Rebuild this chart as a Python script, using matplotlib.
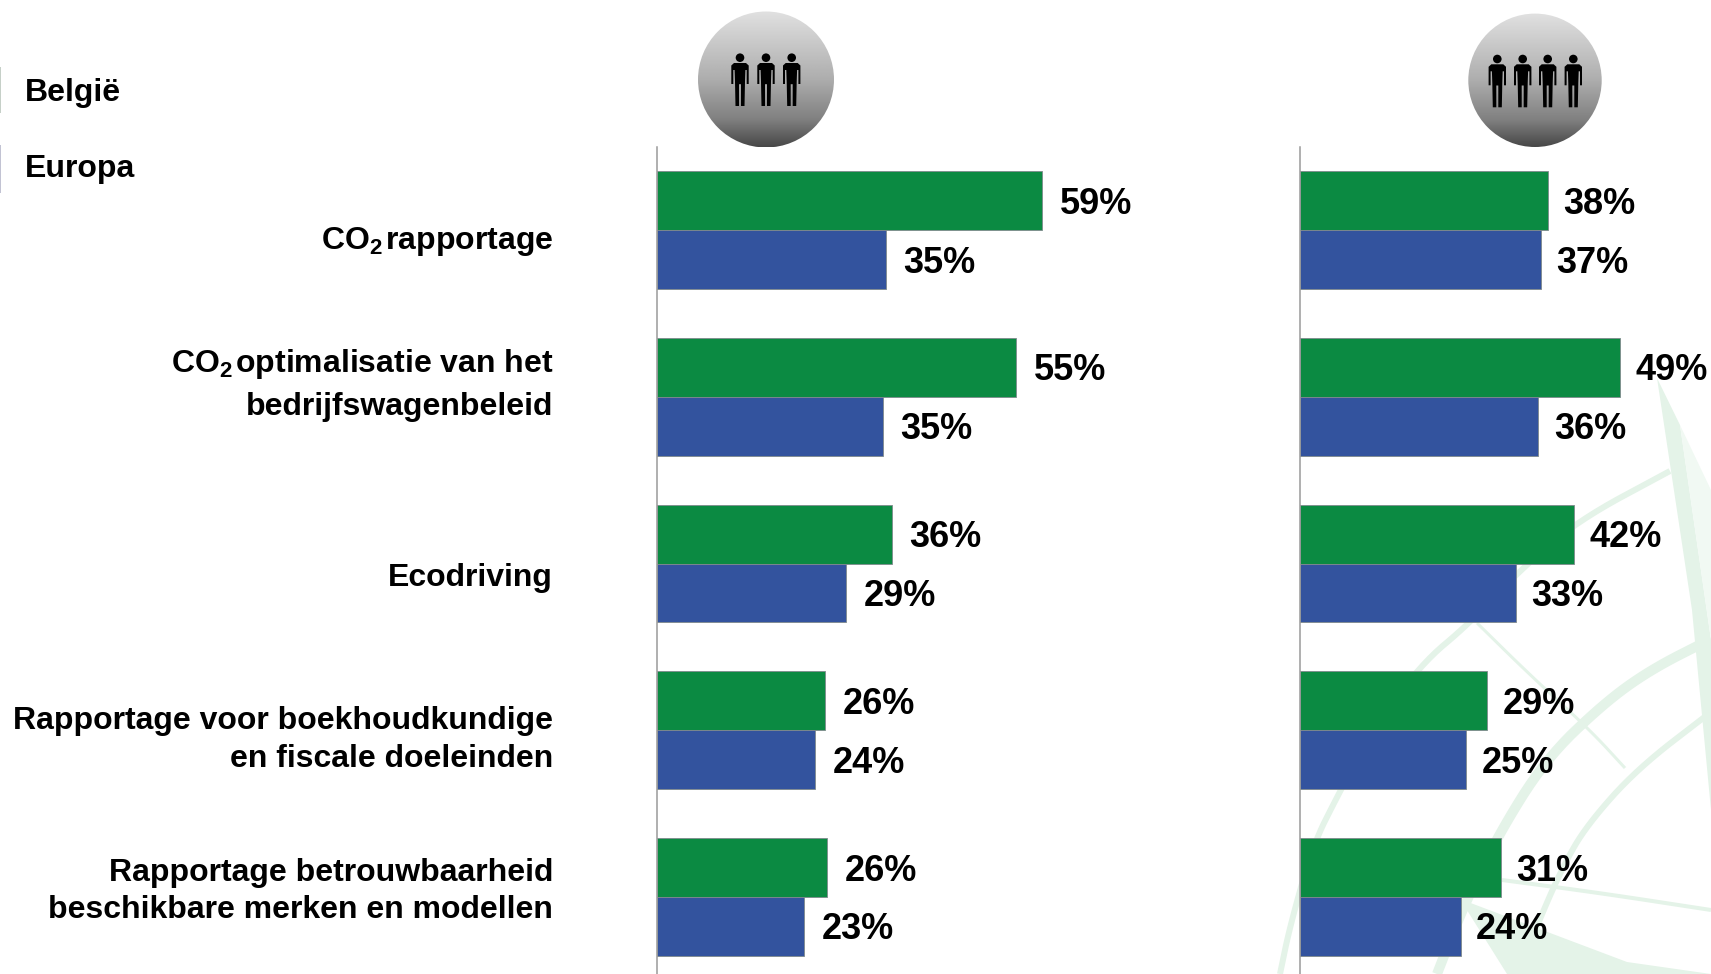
#!/usr/bin/env python3
# -*- coding: utf-8 -*-
import numpy as np
import matplotlib
matplotlib.use('Agg')
import matplotlib.pyplot as plt
from matplotlib.patches import Circle, Polygon, Rectangle

W, H = 1711, 974

plt.rcParams['font.family'] = ['Liberation Sans', 'DejaVu Sans']
plt.rcParams['font.weight'] = 'bold'
plt.rcParams['mathtext.default'] = 'regular'

legend_labels = ['België', 'Europa']

category_lines = ['CO$_2$\u200arapportage',
                  'CO$_2$\u200aoptimalisatie van het', 'bedrijfswagenbeleid',
                  'Ecodriving',
                  'Rapportage voor boekhoudkundige', 'en fiscale doeleinden',
                  'Rapportage betrouwbaarheid', 'beschikbare merken en modellen']

# bar lengths as measured, labels as printed
left_belgie = [59.0, 55.0, 36.0, 25.8, 26.0]
left_europa = [35.0, 34.6, 29.0, 24.2, 22.5]
left_belgie_labels = ['59%', '55%', '36%', '26%', '26%']
left_europa_labels = ['35%', '35%', '29%', '24%', '23%']

right_belgie = [38.0, 49.0, 42.0, 28.7, 30.8]
right_europa = [36.9, 36.5, 33.1, 25.4, 24.6]
right_belgie_labels = ['38%', '49%', '42%', '29%', '31%']
right_europa_labels = ['37%', '36%', '33%', '25%', '24%']

GREEN = '#0B8A42'
BLUE = '#33539E'
EDGE = '#7F8A8C'
AXIS = '#9A9A9A'
FADE = '#E4F3E8'

PX_PER_PCT = 6.53
ROW_PX = 166.7
FIRST_ROW_Y = 230.2
BAR_H = 58.9 / ROW_PX
AXES_TOP = 147


def px_axes(fig, x0, x1, y0, y1, **kw):
    return fig.add_axes([x0 / W, 1 - y1 / H, (x1 - x0) / W, (y1 - y0) / H], **kw)


def smooth(pts, rounds=3):
    # corner cutting, end points stay where they are
    pts = np.array(pts, dtype=float)
    for _ in range(rounds):
        q = 0.75 * pts[:-1] + 0.25 * pts[1:]
        r = 0.25 * pts[:-1] + 0.75 * pts[1:]
        mid = np.empty((len(q) * 2, 2))
        mid[0::2] = q
        mid[1::2] = r
        pts = np.vstack([pts[0], mid, pts[-1]])
    return pts


def draw_compass(ax):
    # faint watermark behind the right panel
    arcs = [
        ([(1670, 471), (1577, 521), (1517, 573), (1470, 623), (1420, 665),
          (1370, 735), (1337, 797), (1313, 845), (1290, 926), (1280, 974)], 6),
        ([(1711, 639), (1650, 670), (1603, 704), (1545, 760), (1497, 837),
          (1462, 910), (1437, 974)], 10),
        ([(1711, 712), (1637, 769), (1587, 825), (1563, 866), (1535, 930),
          (1520, 974)], 6),
        ([(1477, 623), (1530, 675), (1590, 730), (1625, 768)], 3),
        ([(1502, 880), (1600, 893), (1711, 910)], 4),
    ]
    for pts, lw in arcs:
        line = smooth(pts)
        ax.plot(line[:, 0], line[:, 1], color=FADE, lw=lw * 0.72, solid_capstyle='butt',
                solid_joinstyle='round', zorder=1)
    ax.add_patch(Polygon([(1657, 378), (1680, 425), (1711, 640), (1711, 810), (1692, 610)],
                         fc=FADE, ec='none', zorder=1))
    ax.add_patch(Polygon([(1680, 425), (1711, 490), (1711, 640)],
                         fc='#F1F9F3', ec='none', zorder=1))
    ax.add_patch(Polygon([(1460, 899), (1627, 962), (1711, 974), (1507, 974)],
                         fc=FADE, ec='none', zorder=1))


def person_shape(cx, head_y, scale=1.0):
    half = [(0, 5.3), (6, 5.3), (8.7, 7.8), (8.7, 26.3), (6.7, 26.3), (6.7, 12.3),
            (5.4, 12.3), (5.0, 24), (4.5, 48.3), (1.0, 48.3), (1.0, 26.5), (0, 26.5)]
    right = [(cx + dx * scale, head_y + dy * scale) for dx, dy in half]
    left = [(cx - dx * scale, head_y + dy * scale) for dx, dy in half[::-1]]
    return Polygon(right + left, fc='black', ec='none', zorder=4)


def draw_badge(ax, cx, cy, r, person_xs, head_y):
    grad = np.interp(np.linspace(0, 1, 256), [0, 0.5, 0.8, 1], [0.88, 0.68, 0.50, 0.28])
    grad = grad.reshape(-1, 1)
    im = ax.imshow(grad, cmap='gray', vmin=0, vmax=1, extent=(cx - r, cx + r, cy + r, cy - r),
                   aspect='auto', zorder=3)
    im.set_clip_path(Circle((cx, cy), r, transform=ax.transData))
    for px in person_xs:
        ax.add_patch(Circle((px, head_y), 4.3, fc='black', ec='none', zorder=4))
        ax.add_patch(person_shape(px, head_y))


def draw_panel(fig, x0, belgie, europa, belgie_labels, europa_labels, gap):
    ax = px_axes(fig, x0, W, AXES_TOP, H)
    ax.patch.set_alpha(0)
    y = np.arange(len(belgie))
    ax.barh(y - BAR_H / 2, belgie, height=BAR_H, color=GREEN, edgecolor=EDGE, linewidth=0.6)
    ax.barh(y + BAR_H / 2, europa, height=BAR_H, color=BLUE, edgecolor=EDGE, linewidth=0.6)
    for i in y:
        ax.annotate(belgie_labels[i], (belgie[i], i - BAR_H / 2), xytext=(gap, -3.5),
                    textcoords='offset pixels', va='center', ha='left', fontsize=26,
                    color='black', annotation_clip=False)
        ax.annotate(europa_labels[i], (europa[i], i + BAR_H / 2), xytext=(gap, -3.5),
                    textcoords='offset pixels', va='center', ha='left', fontsize=26,
                    color='black', annotation_clip=False)
    ax.set_xlim(0, (W - x0) / PX_PER_PCT)
    ax.set_ylim((H - FIRST_ROW_Y) / ROW_PX, (AXES_TOP - FIRST_ROW_Y) / ROW_PX)
    for side in ['top', 'right', 'bottom']:
        ax.spines[side].set_visible(False)
    ax.spines['left'].set_color(AXIS)
    ax.spines['left'].set_linewidth(1.1)
    ax.set_xticks([])
    ax.set_yticks([])
    return ax


def main():
    fig = plt.figure(figsize=(W / 100, H / 100), dpi=100, facecolor='white')

    bg = px_axes(fig, 0, W, 0, H)
    bg.set_xlim(0, W)
    bg.set_ylim(H, 0)
    bg.axis('off')

    draw_compass(bg)
    draw_badge(bg, 766, 79.5, 68, [740, 766, 791.7], 57.7)
    draw_badge(bg, 1535, 80.3, 66.7, [1497.3, 1522.7, 1547.7, 1573.3], 59)
    bg.set_xlim(0, W)
    bg.set_ylim(H, 0)

    # cut off legend swatches at the left edge
    bg.add_patch(Rectangle((0, 67), 1.5, 46, fc='#C6D0C8', ec='none'))
    bg.add_patch(Rectangle((0, 145), 1.5, 48, fc='#C2C3D3', ec='none'))
    for label, y in zip(legend_labels, [93, 169]):
        bg.text(25, y, label, fontsize=23, va='center', ha='left', color='black')

    line_ys = [242, 364, 407, 578, 721.5, 759, 872.5, 910.5]
    for line, y in zip(category_lines, line_ys):
        bg.text(553, y, line, fontsize=23, va='center', ha='right', color='black')

    draw_panel(fig, 657, left_belgie, left_europa, left_belgie_labels, left_europa_labels, 17.5)
    draw_panel(fig, 1300, right_belgie, right_europa, right_belgie_labels, right_europa_labels, 15.5)

    fig.savefig('out.png', dpi=100)


if __name__ == '__main__':
    main()
